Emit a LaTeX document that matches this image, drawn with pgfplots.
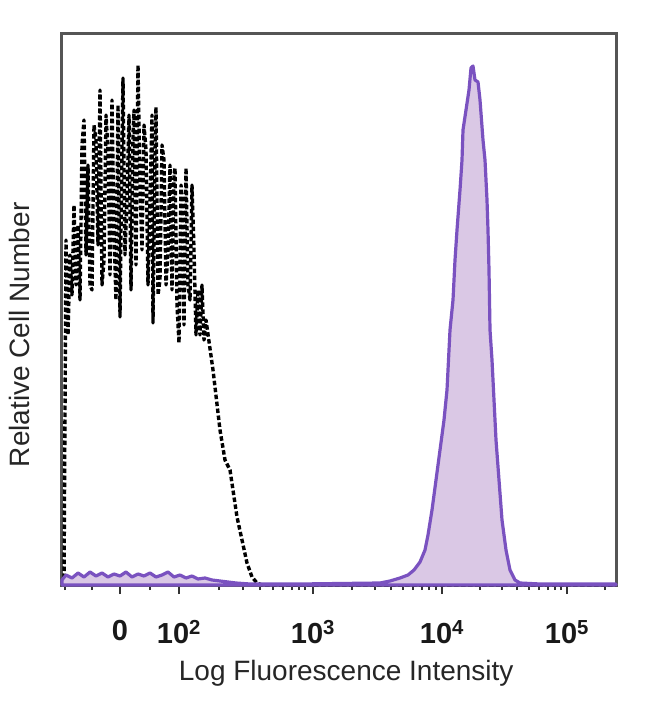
\documentclass[border=0pt]{standalone}
\usepackage{fontspec}
\setmainfont{Liberation Sans}
\usepackage{pgfplots}
\pgfplotsset{compat=1.18}
\definecolor{lineP}{RGB}{122,82,192}
\definecolor{fillP}{RGB}{218,200,229}
\definecolor{frameC}{RGB}{85,85,85}
\begin{document}
\begin{tikzpicture}
\begin{axis}[name=ax, scale only axis, width=554pt, height=551pt,
  xmin=62, xmax=616, ymin=0, ymax=551, clip=false,
  ytick=\empty,
  xtick={120,179,313,442,567},
  xticklabels={0,10\textsuperscript{2},10\textsuperscript{3},10\textsuperscript{4},10\textsuperscript{5}},
  minor xtick={65,92,150,219,243,260,273,283,292,299,305,352,375,391,403,413,422,429,436,480,502,517,529,539,548,555,561,605},
  xtick pos=left, tick align=outside,
  major tick length=9pt, minor tick length=5pt,
  every tick/.style={black!80, line width=1.3pt},
  axis line style={frameC, line width=3pt},
  xticklabel style={font=\fontsize{29}{31}\bfseries, text=black!90, yshift=-23pt},
  xlabel={Log Fluorescence Intensity},
  ylabel={Relative Cell Number},
  label style={font=\fontsize{28}{30}\selectfont, text=black!85},
  xlabel style={at={(axis description cs:0.513,-0.160)}, anchor=center},
  ylabel style={at={(axis description cs:-0.076,0.454)}, anchor=center},
]
% control (black dashed)
\addplot[black, line width=3.4pt, dash pattern=on 4.5pt off 2.5pt, line join=round] coordinates {
(64,0) (66,345) (68,250) (70,330) (72,290) (74,380) (76,300) (78,360) (80,285) (82,440)
(84,465) (86,330) (88,420) (90,300) (92,295) (94,460) (96,445) (98,340) (100,495) (102,300)
(104,325) (106,470) (108,435) (110,310) (112,485) (114,350) (116,285) (118,480) (120,268)
(122,440) (123,507) (125,330) (127,385) (129,470) (131,295) (133,450) (134,475) (136,320)
(138,520) (140,400) (142,335) (144,460) (146,435) (148,300) (150,385) (152,470) (153,262)
(155,430) (156,478) (158,290) (160,305) (162,440) (164,425) (166,300) (168,335) (170,420)
(172,295) (174,410) (175,417) (177,280) (179,242) (181,400) (182,385) (184,260) (186,417)
(188,300) (190,285) (192,400) (194,335) (196,250) (198,295) (200,250) (202,300) (204,245)
(206,265) (213,215) (220,155) (225,125) (230,115) (237,68) (242,45) (247,22) (252,8)
(257,2) (262,0) (616,0)};
% stained (purple filled)
\addplot[draw=lineP, line width=3.2pt, fill=fillP, line join=round] coordinates {
(62,0) (62,5) (66,10) (72,7) (78,12) (84,8) (90,13) (96,9) (102,12) (108,8) (114,11) (120,9)
(126,13) (132,8) (138,11) (144,9) (150,12) (156,8) (162,10) (168,13) (174,8) (180,10)
(186,7) (192,9) (198,6) (205,7) (212,5) (220,4) (228,3) (236,2) (250,1) (300,1) (380,2)
(390,4) (400,7) (408,10) (414,15) (420,23) (425,35) (428,50) (432,75) (436,105) (440,135)
(444,165) (447,195) (450,255) (453,285) (455,325) (457,355) (460,395) (462,425) (463,455)
(466,475) (469,495) (471,517) (473,519) (475,505) (478,503) (480,485) (483,445) (485,425)
(487,385) (488,355) (489,315) (490,255) (492,225) (494,185) (496,145) (499,105) (502,65)
(506,35) (510,15) (515,5) (520,2) (540,1) (616,1) (616,0)} \closedcycle;
\end{axis}
\path (ax.south west) ++(-62pt,-119pt) coordinate (bbA);
\path (ax.south west) ++(588pt,585pt) coordinate (bbB);
\path (bbA) rectangle (bbB);
\end{tikzpicture}
\end{document}
